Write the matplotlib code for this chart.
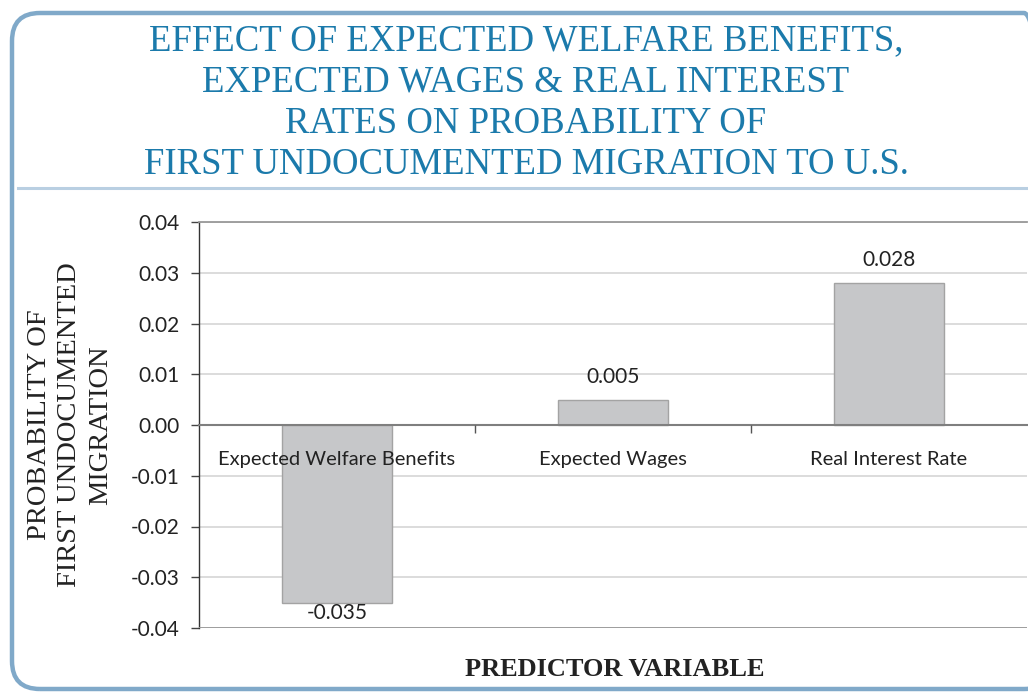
import matplotlib.pyplot as plt
from matplotlib.patches import FancyBboxPatch
from matplotlib.transforms import IdentityTransform
from matplotlib.ticker import FixedLocator

# data
categories = ["Expected Welfare Benefits", "Expected Wages", "Real Interest Rate"]
values = [-0.035, 0.005, 0.028]
value_labels = ["-0.035", "0.005", "0.028"]
yticks = [-0.04, -0.03, -0.02, -0.01, 0.0, 0.01, 0.02, 0.03, 0.04]
ytick_labels = ["-0.04", "-0.03", "-0.02", "-0.01", "0.00", "0.01", "0.02", "0.03", "0.04"]
title = ("EFFECT OF EXPECTED WELFARE BENEFITS,\nEXPECTED WAGES & REAL INTEREST\n"
         "RATES ON PROBABILITY OF\nFIRST UNDOCUMENTED MIGRATION TO U.S.")
ylabel = "PROBABILITY OF\nFIRST UNDOCUMENTED\nMIGRATION"
xlabel = "PREDICTOR VARIABLE"

W, H = 1028, 694
fig = plt.figure(figsize=(W / 100, H / 100), dpi=100)
fig.patch.set_facecolor("white")

title_col = "#1b7aab"
serif = ["Liberation Serif", "DejaVu Serif"]
sans = ["Lato", "DejaVu Sans"]

# rounded frame around the whole figure (pixel coords)
frame = FancyBboxPatch((12, 5), 1040, 676, boxstyle="round,pad=0,rounding_size=28",
                       transform=IdentityTransform(), fill=False,
                       edgecolor="#80a9c9", linewidth=3.2, clip_on=False)
fig.patches.append(frame)
fig.add_artist(plt.Line2D([18 / W, 1.0], [1 - 188 / H] * 2, transform=fig.transFigure,
                          color="#b9cfe2", linewidth=2.2))

fig.text(526 / W, 1 - 103 / H, title, ha="center", va="center", color=title_col,
         fontsize=26.5, family=serif, linespacing=1.25)

ax = fig.add_axes([199 / W, 1 - 628 / H, 828 / W, 406 / H])
x = list(range(len(categories)))
bars = ax.bar(x, values, width=0.4, color="#c6c7c9", edgecolor="#a3a3a3", linewidth=1.0, zorder=3)

ax.set_xlim(-0.5, len(categories) - 0.5)
ax.set_ylim(yticks[0], yticks[-1])
ax.set_yticks(yticks)
ax.set_yticklabels(ytick_labels, family=sans, fontsize=15, color="#222222")
ax.grid(axis="y", color="#d6d6d6", linewidth=1.2, zorder=0)
ax.tick_params(axis="y", length=6, width=1, color="#444444", pad=8)

# category axis sits on the zero line
ax.spines["bottom"].set_position(("data", 0))
ax.spines["bottom"].set_color("#7f7f7f")
ax.spines["bottom"].set_linewidth(1.5)
ax.spines["bottom"].set_zorder(4)
ax.spines["left"].set_color("#333333")
ax.spines["left"].set_linewidth(1.0)
ax.spines["top"].set_color("#999999")
ax.spines["top"].set_linewidth(1.3)
ax.spines["right"].set_visible(False)
ax.axhline(ax.get_ylim()[0], color="#999999", linewidth=1.3, zorder=4)

ax.set_xticks(x)
ax.set_xticklabels(categories, family=sans, fontsize=14.5, color="#222222")
ax.tick_params(axis="x", which="major", length=0, pad=19)
ax.xaxis.set_minor_locator(FixedLocator([i + 0.5 for i in x[:-1]]))
ax.tick_params(axis="x", which="minor", length=6, width=1, color="#555555")
ax.xaxis.set_zorder(5)

for b, v, lab in zip(bars, values, value_labels):
    ax.annotate(lab, (b.get_x() + b.get_width() / 2, v), xytext=(0, 9 if v > 0 else 0),
                textcoords="offset points", ha="center", va="bottom" if v > 0 else "top",
                family=sans, fontsize=15, color="#222222", zorder=5)

fig.text(70 / W, 1 - 425 / H, ylabel, rotation=90, ha="center", va="center",
         family=serif, fontsize=20.5, color="#222222", linespacing=1.3)
fig.text(615 / W, 1 - 670 / H, xlabel, ha="center", va="center",
         family=serif, fontsize=19, fontweight="bold", color="#222222")

fig.savefig("out.png", dpi=100)
